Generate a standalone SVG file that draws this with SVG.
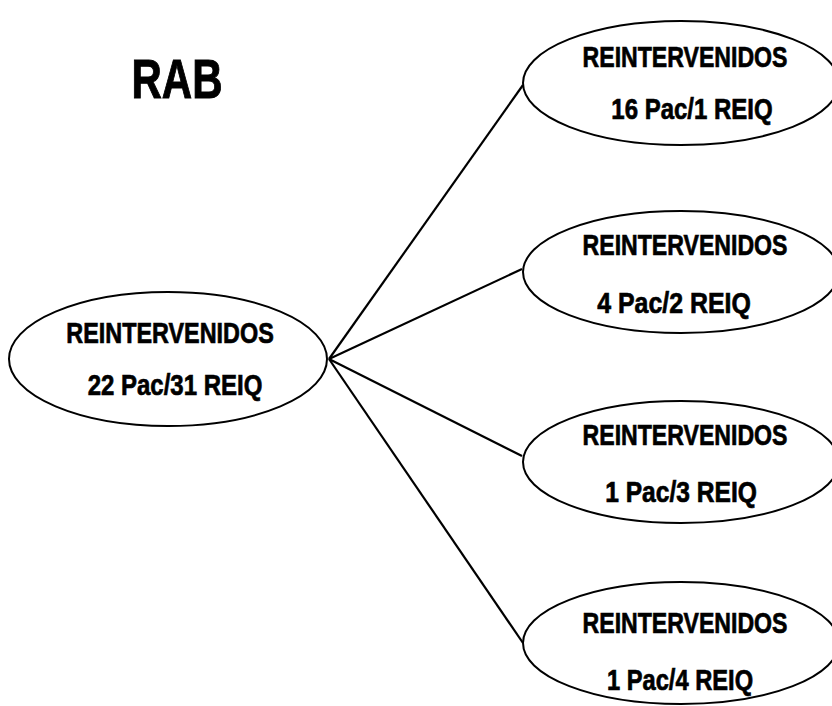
<svg xmlns="http://www.w3.org/2000/svg" width="832" height="706" viewBox="0 0 832 706">
<style>
.n{fill:#fff;stroke:#000;stroke-width:2}
.c{stroke:#000;stroke-width:2.2;fill:none}
.t{font-family:"Liberation Sans",Arial,sans-serif;font-weight:bold;font-size:30px;fill:#000;stroke:#000;stroke-width:0.7;text-anchor:middle}
</style>
<rect width="832" height="706" fill="#fff"/>
<text transform="translate(177,98) scale(0.75,1)" font-family="Liberation Sans, Arial, sans-serif" font-weight="bold" font-size="56" text-anchor="middle" stroke="#000" stroke-width="1">RAB</text>
<g id="connectors">
<line class="c" x1="329" y1="359" x2="523" y2="85"/>
<line class="c" x1="329" y1="359" x2="522" y2="269"/>
<line class="c" x1="329" y1="359" x2="522" y2="456"/>
<line class="c" x1="329" y1="359" x2="523" y2="643"/>
</g>
<g id="root">
<ellipse class="n" cx="168" cy="359" rx="159" ry="67"/>
<text class="t" transform="translate(170,343) scale(0.78,1)">REINTERVENIDOS</text>
<text class="t" transform="translate(175,395) scale(0.8,1)">22 Pac/31 REIQ</text>
</g>
<g id="n1">
<ellipse class="n" cx="681" cy="83" rx="158" ry="62"/>
<text class="t" transform="translate(685,67) scale(0.77,1)">REINTERVENIDOS</text>
<text class="t" transform="translate(692,119) scale(0.8,1)">16 Pac/1 REIQ</text>
</g>
<g id="n2">
<ellipse class="n" cx="681" cy="272" rx="158" ry="61"/>
<text class="t" transform="translate(685,255) scale(0.77,1)">REINTERVENIDOS</text>
<text class="t" transform="translate(674,313) scale(0.83,1)">4 Pac/2 REIQ</text>
</g>
<g id="n3">
<ellipse class="n" cx="681" cy="462" rx="158" ry="61"/>
<text class="t" transform="translate(685,445) scale(0.77,1)">REINTERVENIDOS</text>
<text class="t" transform="translate(681,502) scale(0.82,1)">1 Pac/3 REIQ</text>
</g>
<g id="n4">
<ellipse class="n" cx="681" cy="643" rx="158" ry="61"/>
<text class="t" transform="translate(685,633) scale(0.77,1)">REINTERVENIDOS</text>
<text class="t" transform="translate(680,690) scale(0.79,1)">1 Pac/4 REIQ</text>
</g>
</svg>
